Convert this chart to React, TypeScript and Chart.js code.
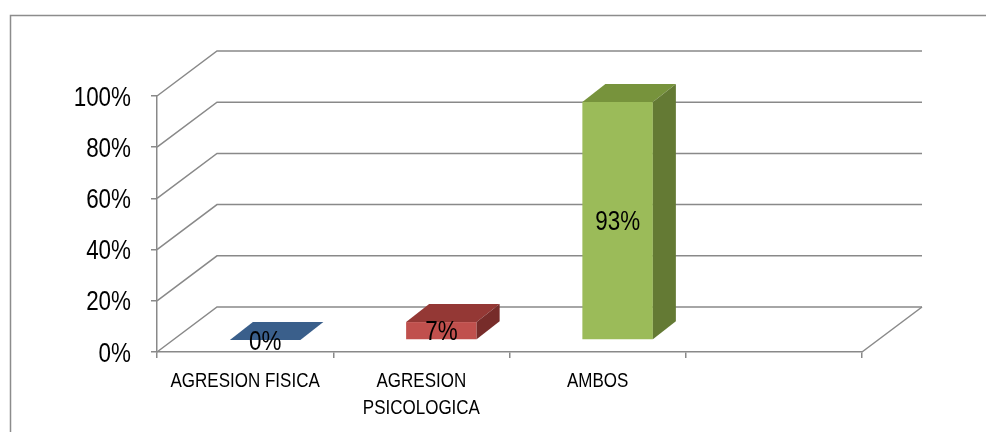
import React, { useEffect, useRef } from "react";
import { Chart, registerables } from "chart.js";

Chart.register(...registerables);

// ---- data ----
const categories: (string | string[])[] = [
  "AGRESION FISICA",
  ["AGRESION", "PSICOLOGICA"],
  "AMBOS",
  "",
];
const values: (number | null)[] = [0, 7, 93, null];
const valueLabels: string[] = ["0%", "7%", "93%", ""];
const yMin = 0;
const yMax = 100;
const yStep = 20;

// ---- styles ----
const frontColors = ["#4F81BD", "#C0504D", "#9BBB59", "#000000"];
const topColors = ["#3A5F8B", "#943835", "#77933C", "#000000"];
const sideColors = ["#2E4C70", "#772C2A", "#647A34", "#000000"];
const FONT = "'Liberation Sans', Arial, sans-serif";
const GRID = "#898989";
const CAP = 0.716;

// 3D geometry (pixels)
const WALL_DX = 60;
const WALL_DY = -45;
const BAR_SX = 20;
const BAR_SY = -12;
const BAR_DX = 23;
const BAR_DY = -18;

function drawNarrow(
  ctx: CanvasRenderingContext2D,
  text: string,
  x: number,
  y: number,
  size: number,
  squeeze: number,
  align: CanvasTextAlign
) {
  ctx.save();
  ctx.translate(x, y);
  ctx.scale(squeeze, 1);
  ctx.font = `${size}px ${FONT}`;
  ctx.textAlign = align;
  ctx.textBaseline = "alphabetic";
  ctx.fillStyle = "#000";
  ctx.fillText(text, 0, 0);
  ctx.restore();
}

const threeDPlugin = {
  id: "threeD",
  beforeDraw(chart: any) {
    const ctx = chart.ctx;
    ctx.save();
    ctx.strokeStyle = "#8c8c8c";
    ctx.lineWidth = 1.5;
    ctx.beginPath();
    ctx.moveTo(10.5, chart.height);
    ctx.lineTo(10.5, 15.5);
    ctx.lineTo(chart.width, 15.5);
    ctx.stroke();
    ctx.restore();
  },
  beforeDatasetsDraw(chart: any) {
    const ctx = chart.ctx;
    const ys = chart.scales.y;
    const area = chart.chartArea;
    ctx.save();
    ctx.strokeStyle = GRID;
    ctx.lineWidth = 1.5;
    for (let v = yMin; v <= yMax; v += yStep) {
      const py = ys.getPixelForValue(v);
      ctx.beginPath();
      ctx.moveTo(area.left, py);
      ctx.lineTo(area.left + WALL_DX, py + WALL_DY);
      ctx.lineTo(area.right + WALL_DX, py + WALL_DY);
      ctx.stroke();
    }
    const p0 = ys.getPixelForValue(yMin);
    ctx.beginPath();
    ctx.moveTo(area.right, p0);
    ctx.lineTo(area.right + WALL_DX, p0 + WALL_DY);
    ctx.stroke();
    ctx.restore();
  },
  afterDatasetsDraw(chart: any) {
    const ctx = chart.ctx;
    const meta = chart.getDatasetMeta(0);
    ctx.save();
    meta.data.forEach((el: any, i: number) => {
      if (values[i] === null || values[i] === undefined) return;
      const p = el.getProps(["x", "y", "base", "width"], true);
      const l = p.x - p.width / 2 + BAR_SX;
      const r = p.x + p.width / 2 + BAR_SX;
      const t = p.y + BAR_SY;
      const b = p.base + BAR_SY;
      ctx.fillStyle = frontColors[i];
      ctx.fillRect(l, t, r - l, b - t);
      ctx.fillStyle = topColors[i];
      ctx.beginPath();
      ctx.moveTo(l, t);
      ctx.lineTo(l + BAR_DX, t + BAR_DY);
      ctx.lineTo(r + BAR_DX, t + BAR_DY);
      ctx.lineTo(r, t);
      ctx.closePath();
      ctx.fill();
      ctx.fillStyle = sideColors[i];
      ctx.beginPath();
      ctx.moveTo(r, t);
      ctx.lineTo(r + BAR_DX, t + BAR_DY);
      ctx.lineTo(r + BAR_DX, b + BAR_DY);
      ctx.lineTo(r, b);
      ctx.closePath();
      ctx.fill();
    });
    meta.data.forEach((el: any, i: number) => {
      if (values[i] === null || values[i] === undefined) return;
      const p = el.getProps(["x", "y", "base"], true);
      const cx = p.x + BAR_SX;
      const cy = (p.y + p.base) / 2 + BAR_SY;
      drawNarrow(ctx, valueLabels[i], cx, cy + (27 * CAP) / 2, 27, 0.83, "center");
    });
    ctx.restore();
  },
  afterDraw(chart: any) {
    const ctx = chart.ctx;
    const ys = chart.scales.y;
    const xs = chart.scales.x;
    // y tick labels
    ys.ticks.forEach((t: any, i: number) => {
      const py = ys.getPixelForTick(i);
      drawNarrow(ctx, String(t.label), ys.right - 26, py + (27 * CAP) / 2, 27, 0.83, "right");
    });
    // x tick labels
    xs.ticks.forEach((t: any, i: number) => {
      const px = xs.getPixelForTick(i);
      const lines = Array.isArray(t.label) ? t.label : [t.label];
      lines.forEach((line: string, j: number) => {
        drawNarrow(ctx, String(line), px, xs.top + 21 + 14.3 + j * 27, 20, 0.85, "center");
      });
    });
  },
};

export default function App() {
  const ref = useRef<HTMLCanvasElement | null>(null);
  useEffect(() => {
    if (!ref.current) return;
    const chart = new Chart(ref.current, {
      type: "bar",
      data: {
        labels: categories as any,
        datasets: [
          {
            data: values as any,
            backgroundColor: "rgba(0,0,0,0)",
            borderWidth: 0,
            barPercentage: 0.4,
            categoryPercentage: 1,
          },
        ],
      },
      options: {
        animation: false,
        responsive: false,
        maintainAspectRatio: false,
        devicePixelRatio: 1,
        layout: { padding: { top: 96, right: 124, left: 0, bottom: 0 } },
        plugins: {
          legend: { display: false },
          tooltip: { enabled: false },
          title: { display: false },
        },
        scales: {
          x: {
            afterFit: (s: any) => {
              s.height = 80;
            },
            grid: {
              offset: true,
              drawOnChartArea: false,
              drawTicks: true,
              tickLength: 6,
              color: GRID,
              lineWidth: 1.5,
            },
            border: { display: true, color: GRID, width: 1.5 },
            ticks: {
              display: false,
              maxRotation: 0,
              minRotation: 0,
              autoSkip: false,
            },
          },
          y: {
            min: yMin,
            max: yMax,
            afterFit: (s: any) => {
              s.width = 157;
            },
            grid: {
              drawOnChartArea: false,
              drawTicks: true,
              tickLength: 6,
              color: GRID,
              lineWidth: 1.5,
            },
            border: { display: true, color: GRID, width: 1.5 },
            ticks: {
              display: false,
              stepSize: yStep,
              callback: (v: any) => `${v}%`,
            },
          },
        },
      },
      plugins: [threeDPlugin],
    });
    return () => chart.destroy();
  }, []);
  return (
    <div style={{ position: "absolute", left: 0, top: 0, width: 986, height: 432, background: "#fff" }}>
      <canvas ref={ref} width={986} height={432} style={{ display: "block", width: 986, height: 432 }} />
    </div>
  );
}
